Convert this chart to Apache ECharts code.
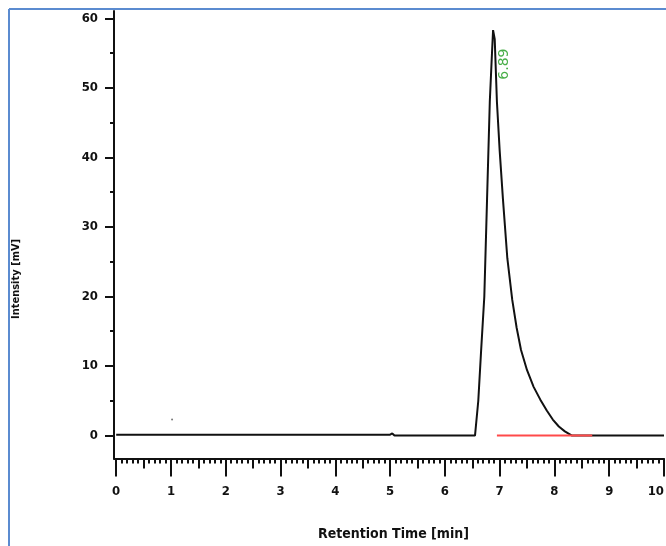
<!DOCTYPE html>
<html>
<head>
<meta charset="utf-8">
<script src="https://cdn.jsdelivr.net/npm/echarts@6/dist/echarts.min.js"></script>
<style>
html,body{margin:0;padding:0;background:#fff;}
#c{width:666px;height:546px;}
</style>
</head>
<body>
<div id="c"></div>
<script>
// ---- data ----
var timeMin   = [0, 0.98, 1.02, 1.06, 5.0, 5.04, 5.08, 6.50, 6.55, 6.61, 6.66, 6.72, 6.77, 6.82, 6.86, 6.88, 6.89, 6.91, 6.95, 7.00, 7.06, 7.14, 7.23, 7.31, 7.39, 7.50, 7.62, 7.74, 7.86, 7.97, 8.08, 8.19, 8.32, 10.0];
var signalMv  = [0.12, 0.12, 0.12, 0.12, 0.12, 0.3, 0, 0, 0, 5, 12, 20, 34, 48, 55, 58.3, 58.3, 57, 48, 41, 34, 25.5, 19.5, 15.5, 12.3, 9.4, 7.0, 5.2, 3.6, 2.3, 1.3, 0.6, 0, 0];
var integrationStart = 6.95, integrationEnd = 8.69;
var peakTime = 6.89, peakHeight = 58.3, peakLabel = "6.89";
var noiseTime = [1.02], noiseValue = [2.3];
var yTicks = [0, 10, 20, 30, 40, 50, 60];
var yMinorTicks = [5, 15, 25, 35, 45, 55];
var xTicks = [0, 1, 2, 3, 4, 5, 6, 7, 8, 9, 10];
var xHalfTicks = [0.5, 1.5, 2.5, 3.5, 4.5, 5.5, 6.5, 7.5, 8.5, 9.5];
var xTenthTicks = [];
for (var i = 0; i <= 100; i++) { if (i % 5 !== 0) xTenthTicks.push(i / 10); }

var chromData = timeMin.map(function (t, i) { return [t, signalMv[i]]; });
var FONT = "'Liberation Sans Narrow', 'DejaVu Sans Condensed', 'DejaVu Sans', sans-serif";

var chart = echarts.init(document.getElementById('c'), null, {renderer: 'canvas'});
var lbl = {color: '#111', fontFamily: FONT, fontWeight: 'bold', fontSize: 13};

function xAx(ticks, len, showLine, showLabel) {
  return {
    type: 'value', min: -0.04, max: 10, position: 'bottom',
    axisLine: {show: showLine, onZero: false, lineStyle: {color: '#111', width: 2}},
    axisTick: {show: true, customValues: ticks, length: len, lineStyle: {color: '#111', width: 2}},
    axisLabel: showLabel ? Object.assign({customValues: ticks, margin: 27, alignMaxLabel: 'right'}, lbl) : {show: false},
    splitLine: {show: false}
  };
}
function yAx(ticks, len, showLine, showLabel) {
  return {
    type: 'value', min: -3.3, max: 61.05, position: 'left',
    axisLine: {show: showLine, onZero: false, lineStyle: {color: '#111', width: 2}},
    axisTick: {show: true, customValues: ticks, length: len, lineStyle: {color: '#111', width: 2}},
    axisLabel: showLabel ? Object.assign({customValues: ticks, margin: 16}, lbl) : {show: false},
    splitLine: {show: false}
  };
}

chart.setOption({
  animation: false,
  backgroundColor: '#fff',
  grid: {left: 114, right: 2, top: 11, bottom: 546 - 458.5, outerBoundsMode: 'none', containLabel: false},
  xAxis: [xAx(xTicks, 18, true, true), xAx(xHalfTicks, 10, false, false), xAx(xTenthTicks, 5, false, false)],
  yAxis: [yAx(yTicks, 9, true, true), yAx(yMinorTicks, 4, false, false)],
  graphic: [
    {type: 'line', shape: {x1: 9, y1: 9, x2: 666, y2: 9}, style: {stroke: '#5b8bd0', lineWidth: 2}},
    {type: 'line', shape: {x1: 9, y1: 9, x2: 9, y2: 546}, style: {stroke: '#5b8bd0', lineWidth: 2}},
    {type: 'text', left: 318, top: 527, style: {text: 'Retention Time [min]', fill: '#111', font: 'bold 14px ' + FONT}},
    {type: 'text', x: 11, y: 319, rotation: Math.PI / 2, style: {text: 'Intensity [mV]', fill: '#111', font: 'bold 11px ' + FONT}}
  ],
  series: [
    {type: 'line', data: chromData, symbol: 'none', lineStyle: {color: '#111', width: 2}, z: 2},
    {type: 'line', data: [[integrationStart, 0], [integrationEnd, 0]], symbol: 'none', lineStyle: {color: '#ff4a4a', width: 2}, z: 3},
    {type: 'scatter', data: [[noiseTime[0], noiseValue[0]]], symbolSize: 2, itemStyle: {color: '#555'}},
    {type: 'scatter', data: [[peakTime, peakHeight]], symbolSize: 0, z: 5,
      label: {show: true, formatter: peakLabel, rotate: 90, offset: [-34, 11], position: 'inside', color: '#1a9a1a', fontFamily: "'DejaVu Sans', sans-serif", fontSize: 14}}
  ]
});
</script>
</body>
</html>
